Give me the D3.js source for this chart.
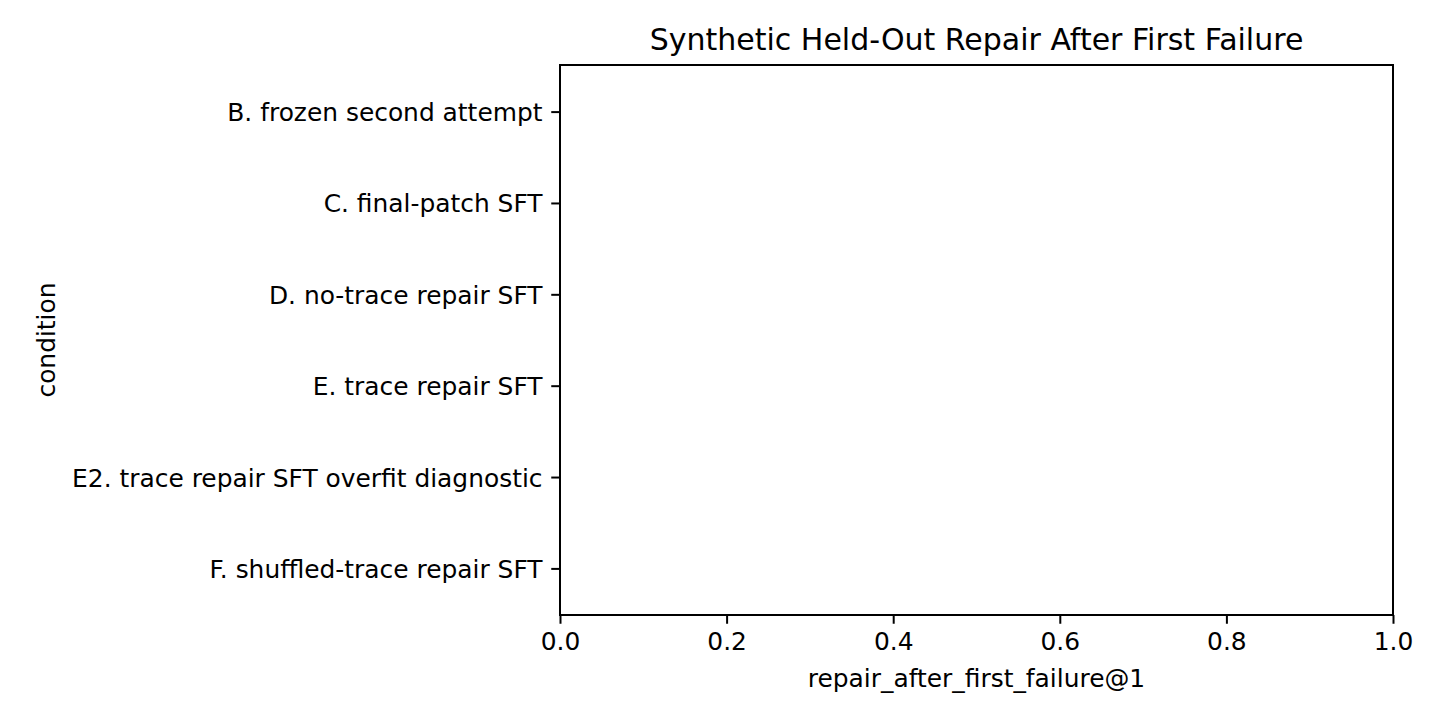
<!DOCTYPE html>
<html>
<head>
<meta charset="utf-8">
<script src="https://cdn.jsdelivr.net/npm/d3@7"></script>
<style>
  html, body { margin: 0; padding: 0; background: #fff; }
  svg { display: block; font-family: "DejaVu Sans", sans-serif; }
</style>
</head>
<body>
<svg id="chart" width="1440" height="720"></svg>
<script>
const categories = [
  "B. frozen second attempt",
  "C. final-patch SFT",
  "D. no-trace repair SFT",
  "E. trace repair SFT",
  "E2. trace repair SFT overfit diagnostic",
  "F. shuffled-trace repair SFT"
];
const values = [0, 0, 0, 0, 0, 0];
const xTicks = [0, 0.2, 0.4, 0.6, 0.8, 1.0];
const titleText = "Synthetic Held-Out Repair After First Failure";
const xLabel = "repair_after_first_failure@1";
const yLabel = "condition";

const svg = d3.select("#chart");
const m = { left: 560, right: 1393, top: 65, bottom: 615 };
const tickLen = 8.75, tickPad = 8.75, fs = 24.9;

const x = d3.scaleLinear().domain([0, 1]).range([m.left, m.right]);
const y = d3.scalePoint().domain(categories).range([m.top, m.bottom]).padding(0.51);
const barH = y.step() * 0.8;

// bars
svg.append("g").selectAll("rect").data(categories).join("rect")
  .attr("x", x(0))
  .attr("y", (d) => y(d) - barH / 2)
  .attr("width", (d, i) => x(values[i]) - x(0))
  .attr("height", barH)
  .attr("fill", "#1f77b4");

// x axis
const xAxis = d3.axisBottom(x).tickValues(xTicks).tickFormat(d3.format(".1f"))
  .tickSize(tickLen).tickPadding(tickPad);
const gx = svg.append("g").attr("transform", `translate(0,${m.bottom})`).call(xAxis);
gx.select(".domain").remove();
gx.selectAll("line").attr("stroke", "#000").attr("stroke-width", 2);
gx.selectAll("text").attr("font-size", fs).attr("fill", "#000")
  .attr("font-family", "DejaVu Sans");

// y axis
const yAxis = d3.axisLeft(y).tickSize(tickLen).tickPadding(tickPad);
const gy = svg.append("g").attr("transform", `translate(${m.left},0)`).call(yAxis);
gy.select(".domain").remove();
gy.selectAll("line").attr("stroke", "#000").attr("stroke-width", 2);
gy.selectAll("text").attr("font-size", fs).attr("fill", "#000")
  .attr("font-family", "DejaVu Sans").attr("dy", "0.36em");

// frame
svg.append("rect")
  .attr("x", m.left).attr("y", m.top)
  .attr("width", m.right - m.left).attr("height", m.bottom - m.top)
  .attr("fill", "none").attr("stroke", "#000").attr("stroke-width", 2);

// title
svg.append("text")
  .attr("x", (m.left + m.right) / 2).attr("y", 50)
  .attr("text-anchor", "middle").attr("font-size", 30).attr("fill", "#000")
  .text(titleText);

// x label
svg.append("text")
  .attr("x", (m.left + m.right) / 2).attr("y", 687)
  .attr("text-anchor", "middle").attr("font-size", fs).attr("fill", "#000")
  .text(xLabel);

// y label
svg.append("text")
  .attr("transform", `translate(55,${(m.top + m.bottom) / 2}) rotate(-90)`)
  .attr("text-anchor", "middle").attr("font-size", fs).attr("fill", "#000")
  .text(yLabel);
</script>
</body>
</html>
